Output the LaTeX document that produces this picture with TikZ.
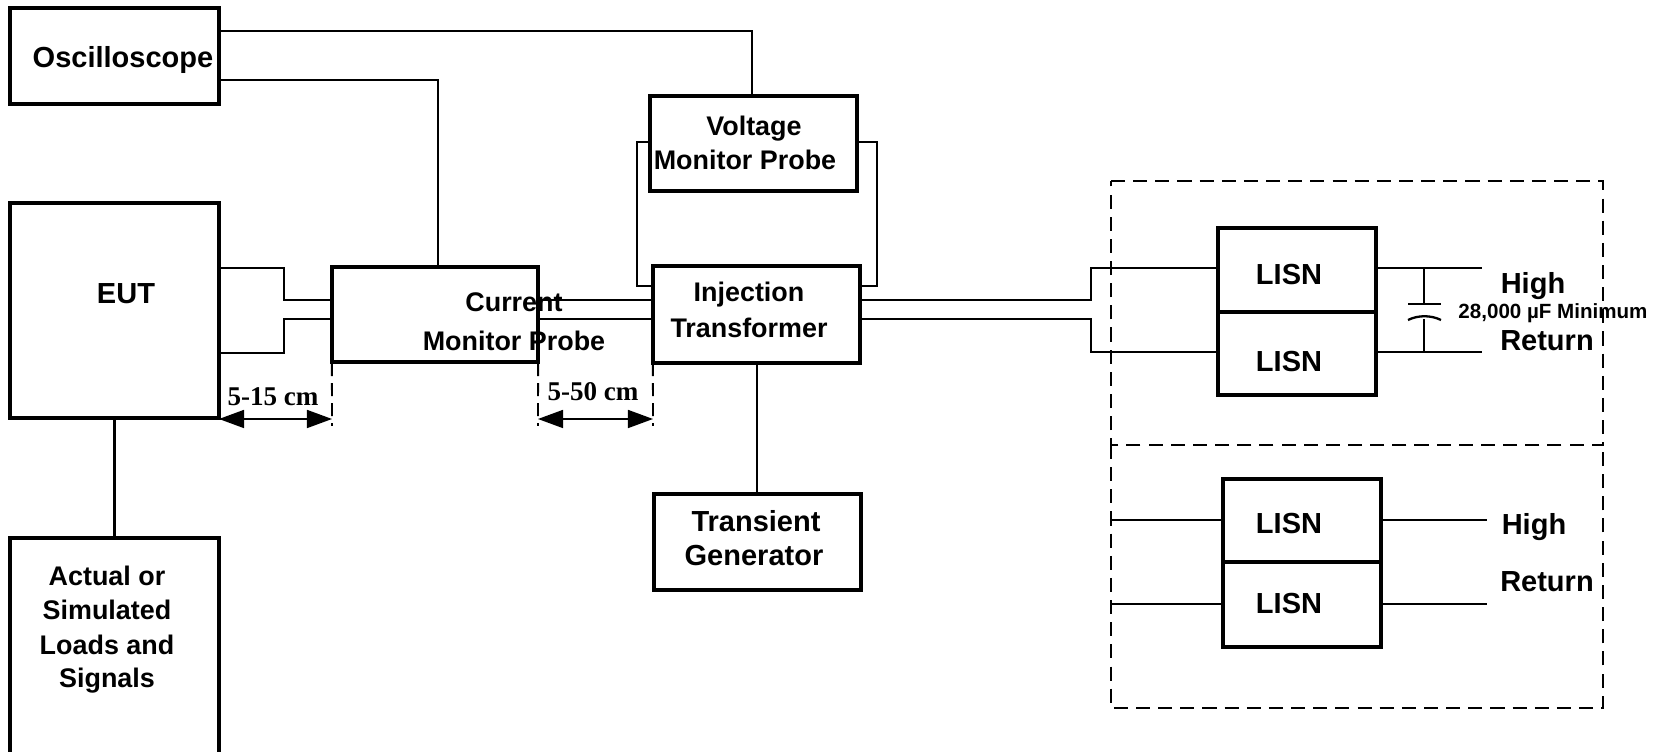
\documentclass[tikz,border=0pt]{standalone}
\usepackage{fontspec}
\usetikzlibrary{arrows.meta}
\setmainfont{Liberation Sans}
\newfontfamily\dimfont{Liberation Serif}
\tikzset{
  hbox/.style={draw,line width=.9pt,rectangle,inner sep=0,outer sep=0},
  wire/.style={line width=.65pt},
  dimline/.style={line width=.55pt,dash pattern=on 3.7pt off 2pt},
  dimarrow/.style={line width=.45pt,{Triangle[length=.25cm,width=.18cm]}-{Triangle[length=.25cm,width=.18cm]}},
  framebox/.style={line width=.65pt,dash pattern=on 4pt off 2.3pt},
  lbl/.style={inner sep=0,font=\fontsize{8.25pt}{10pt}\selectfont\bfseries},
  lblsmall/.style={inner sep=0,font=\fontsize{7.65pt}{10pt}\selectfont\bfseries},
  dimlbl/.style={inner sep=0,font=\fontsize{7.7pt}{10pt}\selectfont\bfseries\dimfont},
}
\begin{document}
\begin{tikzpicture}[x=0.01cm,y=-0.01cm]
\useasboundingbox (0,0) rectangle (1665,752);
\begin{scope}
\clip (0,0) rectangle (1665,752);

\node (osc) at (114.5,56) [hbox,minimum width=2.09cm,minimum height=.96cm] {};
\node (eut) at (114.5,310.5) [hbox,minimum width=2.09cm,minimum height=2.15cm] {};
\node (loads) at (114.5,668) [hbox,minimum width=2.09cm,minimum height=2.60cm] {};
\node (cmp) at (435,314.5) [hbox,minimum width=2.06cm,minimum height=.95cm] {};
\node (vmp) at (753.5,143.5) [hbox,minimum width=2.07cm,minimum height=.95cm] {};
\node (inj) at (756.5,314.5) [hbox,minimum width=2.07cm,minimum height=.97cm] {};
\node (gen) at (757.5,542) [hbox,minimum width=2.07cm,minimum height=.96cm] {};
\node (lisna) at (1297,270) [hbox,minimum width=1.58cm,minimum height=.84cm] {};
\node (lisnb) at (1297,353.5) [hbox,minimum width=1.58cm,minimum height=.83cm] {};
\node (lisnc) at (1302,520.5) [hbox,minimum width=1.58cm,minimum height=.83cm] {};
\node (lisnd) at (1302,604.5) [hbox,minimum width=1.58cm,minimum height=.85cm] {};

\coordinate (capa) at (1424,304);
\coordinate (capb) at (1424,319);
\coordinate (higha) at (1482,268);
\coordinate (retna) at (1482,352);
\coordinate (highb) at (1487,520);
\coordinate (retnb) at (1487,604);

\draw [wire] (osc.east |- 0,31) -- (752,31) -- (752,0 |- vmp.north);
\draw [wire] (osc.east |- 0,80) -- (438,80) -- (438,0 |- cmp.north);
\draw [wire] (eut.south) -- (loads.north);
\draw [wire] (eut.east |- 0,268) -- (284,268) -- (284,300) -- (cmp.west |- 0,300);
\draw [wire] (eut.east |- 0,353) -- (284,353) -- (284,319) -- (cmp.west |- 0,319);
\draw [wire] (cmp.east |- 0,300) -- (inj.west |- 0,300);
\draw [wire] (cmp.east |- 0,319) -- (inj.west |- 0,319);
\draw [wire] (vmp.west |- 0,142) -- (637,142) -- (637,286) -- (inj.west |- 0,286);
\draw [wire] (vmp.east |- 0,142) -- (877,142) -- (877,286) -- (inj.east |- 0,286);
\draw [wire] (inj.south -| 757,0) -- (gen.north -| 757,0);
\draw [wire] (inj.east |- 0,300) -- (1091,300) -- (1091,268) -- (lisna.west |- 0,268);
\draw [wire] (inj.east |- 0,319) -- (1091,319) -- (1091,352) -- (lisnb.west |- 0,352);
\draw [wire] (lisna.east |- higha) -- (higha);
\draw [wire] (lisnb.east |- retna) -- (retna);
\draw [wire] (capa |- higha) -- (capa);
\draw [wire] (capb |- retna) -- (capb);
\draw [wire] (1408,304) -- (1441,304);
\draw [wire] (1408,320) .. controls (1418,315) and (1431,315) .. (1441,320);
\draw [wire] (1111,520) -- (lisnc.west |- 0,520);
\draw [wire] (1111,604) -- (lisnd.west |- 0,604);
\draw [wire] (lisnc.east |- highb) -- (highb);
\draw [wire] (lisnd.east |- retnb) -- (retnb);

\draw [framebox] (1111,181) -- (1603,181) -- (1603,445) -- (1111,445) -- cycle;
\draw [framebox] (1111,445) -- (1111,708) -- (1603,708) -- (1603,445);

\foreach \x/\name in {332/cmp.west,538/cmp.east,653/inj.west} {
    \draw [dimline] (\name |- 0,363) -- (\x,426);
}
\draw [dimarrow] (219,419) -- (332,419);
\draw [dimarrow] (538,419) -- (653,419);

\node (osctxt) at (123,60.5) [lbl] {Oscilloscope};
\node (euttxt) at (126,293.5) [lbl] {EUT};
\node (loadsa) at (107,576) [lblsmall] {Actual or};
\node (loadsb) at (107,610) [lblsmall] {Simulated};
\node (loadsc) at (107,645) [lblsmall] {Loads and};
\node (loadsd) at (107,680.5) [lblsmall] {Signals};
\node (cmpa) at (514,302) [lblsmall] {Current};
\node (cmpb) at (514,341) [lblsmall] {Monitor Probe};
\node (vmpa) at (754,128.5) [lblsmall] {Voltage};
\node (vmpb) at (745,160) [lblsmall] {Monitor Probe};
\node (inja) at (749,294.5) [lblsmall] {Injection};
\node (injb) at (749,328) [lblsmall] {Transformer};
\node (gena) at (756,521.5) [lbl] {Transient};
\node (genb) at (754,556) [lbl] {Generator};
\node (lisnatxt) at (1289,275) [lbl] {LISN};
\node (lisnbtxt) at (1289,362) [lbl] {LISN};
\node (lisnctxt) at (1289,524) [lbl] {LISN};
\node (lisndtxt) at (1289,604) [lbl] {LISN};
\node (hightxta) at (1533,286) [lbl] {High};
\node (retntxta) at (1547,341) [lbl] {Return};
\node (captxt) at (1553,313.5) [lbl,font=\fontsize{5.85pt}{8pt}\selectfont\bfseries] {28,000 µF Minimum};
\node (hightxtb) at (1534,527) [lbl] {High};
\node (retntxtb) at (1547,582) [lbl] {Return};
\node (dima) at (273,397) [dimlbl] {5-15 cm};
\node (dimb) at (593,392) [dimlbl] {5-50 cm};
\end{scope}
\end{tikzpicture}
\end{document}
